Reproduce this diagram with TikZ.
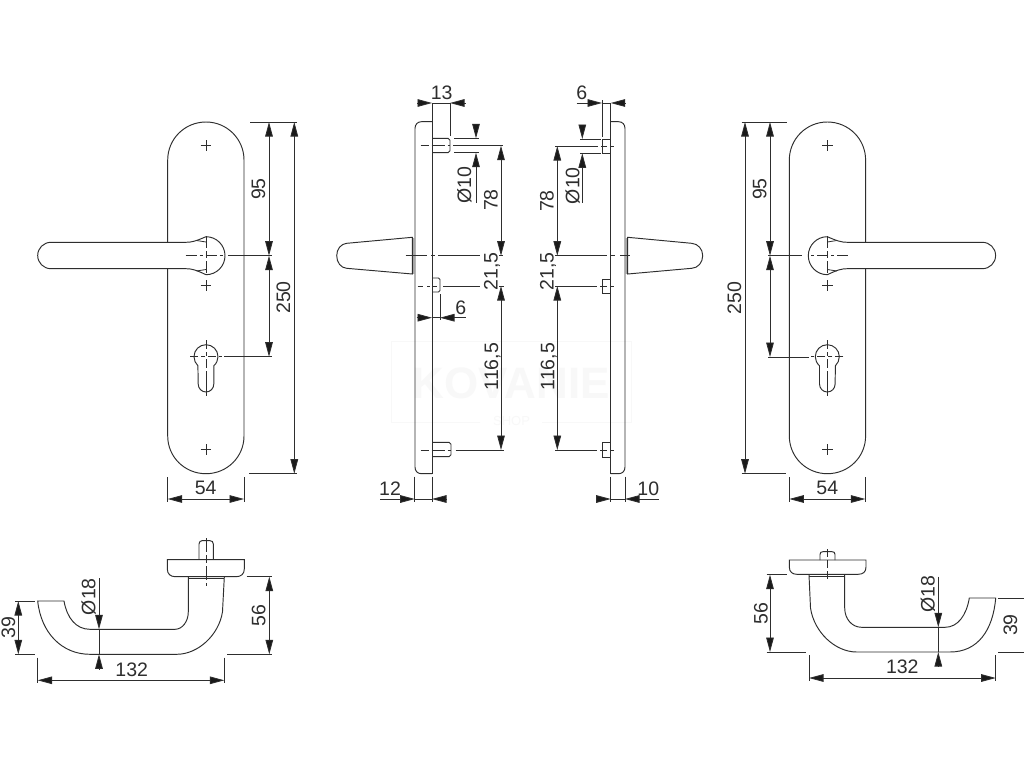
\documentclass[tikz,border=0pt]{standalone}
\usepackage{fontspec}
\setmainfont{Liberation Sans}
\usetikzlibrary{arrows.meta}
\definecolor{ink}{HTML}{2E2E2E}
\definecolor{tipc}{HTML}{1A1A1A}
\definecolor{wm}{HTML}{F8F8F8}
\tikzset{
  ln/.style={draw=ink,line width=0.95pt},
  thinln/.style={draw=ink,line width=0.8pt},
  dimln/.style={draw=ink,line width=0.8pt},
  tipA/.style={-{Triangle[length=14.5pt,width=7.6pt,fill=tipc]}},
  tipB/.style={{Triangle[length=14.5pt,width=7.6pt,fill=tipc]}-{Triangle[length=14.5pt,width=7.6pt,fill=tipc]}},
  tipS/.style={{Triangle[length=14.5pt,width=7.6pt,fill=tipc]}-},
  lab/.style={text=ink,inner sep=0pt,font=\fontsize{19.5}{21}\selectfont,text height=14pt,text depth=0pt},
  rlab/.style={lab,rotate=90},
  wmtext/.style={text=wm,inner sep=0pt,font=\fontsize{44}{46}\selectfont\bfseries},
}
\newcommand{\plusmark}[2]{\draw[thinln] ({#1-5.3},#2) -- ({#1+5.3},#2) ({#1},{#2-5.3}) -- ({#1},{#2+5.3});}
\newcommand{\frontshape}{%
  \draw[ln] (167.7,160) .. controls (167.7,139) and (184.7,122) .. (206,122)
    .. controls (227,122) and (244,139) .. (244,160) -- (244,436)
    .. controls (244,457) and (227,473.7) .. (206,473.7)
    .. controls (184.7,473.7) and (167.7,457) .. (167.7,436) -- cycle;
  \draw[ln,fill=white] (186,242.3) -- (51,242.3)
    .. controls (43.5,242.3) and (37.7,248.2) .. (37.7,255.5)
    .. controls (37.7,262.8) and (43.5,268.7) .. (51,268.7) -- (186,268.7)
    .. controls (192,268.7) and (196,270) .. (206,274.7)
    .. controls (216.5,274.7) and (225,266.2) .. (225,255.7)
    .. controls (225,245.2) and (216.5,236.7) .. (206,236.7)
    .. controls (196,241) and (192,242.3) .. (186,242.3) -- cycle;
  \draw[thinln] (196.5,240.5) -- (206,242) (196.5,271) -- (206,269.5);
  \draw[thinln,dash pattern=on 11pt off 3pt on 3pt off 3pt] (185.7,255.7) -- (225.7,255.7);
  \draw[thinln,dash pattern=on 12pt off 3pt on 7pt off 3pt on 12pt] (206,236) -- (206,275);
  \plusmark{206}{145.7}
  \plusmark{206}{285.7}
  \plusmark{206}{449.3}
  \draw[ln] (197.9,365.8) .. controls (195.5,363.4) and (194,360.1) .. (194,356.7)
    .. controls (194,350.07) and (199.37,344.7) .. (206,344.7)
    .. controls (212.63,344.7) and (218,350.07) .. (218,356.7)
    .. controls (218,360.1) and (216.5,363.4) .. (213.8,365.8)
    -- (213.8,384) .. controls (213.8,388.5) and (210.3,392) .. (206,392)
    .. controls (201.7,392) and (198.2,388.5) .. (198.2,384) -- cycle;
  \draw[thinln,dash pattern=on 8pt off 3pt on 4pt off 3pt on 8pt off 3pt] (190,356.7) -- (222,356.7);
  \draw[thinln,dash pattern=on 9pt off 3pt on 4pt off 3pt on 9pt off 3pt on 40pt] (206,340) -- (206,396);
}
\begin{document}
\begin{tikzpicture}[x=1pt,y=-1pt]
\useasboundingbox (0,0) rectangle (1024,768);
\fill[white] (0,0) rectangle (1024,768);

% watermark
\draw[draw=wm,line width=1.5pt] (480,422.7) -- (391.7,422.7) -- (391.7,341.7) -- (631.7,341.7) -- (631.7,422.7) -- (542,422.7);
\node[wmtext] (wmA) at (511.5,383) {KOVANIE};
\node[text=wm,inner sep=0pt,font=\fontsize{13}{14}\selectfont] (wmB) at (511.5,421) {SHOP};

% ---------- left front
\frontshape
\draw[thinln] (228,255.7) -- (272,255.7);
\draw[thinln] (224,356.7) -- (272,356.7);
\draw[thinln] (250,122) -- (297,122);
\draw[thinln] (249,473.7) -- (297,473.7);
\draw[dimln,tipB] (269,122) -- (269,255.7);
\draw[dimln,tipB] (269,255.7) -- (269,356.7);
\draw[dimln,tipB] (294.3,122) -- (294.3,473.7);
\draw[thinln] (167.7,477) -- (167.7,502) (244,477) -- (244,502);
\draw[dimln,tipB] (167.7,499) -- (244,499);
\node[rlab] (a95) at (258,189) {95};
\node[rlab] (a250) at (283,297.5) {250};
\node[lab] (a54) at (205.7,487.7) {54};

% ---------- right front (mirrored shape)
\begin{scope}[shift={(1033.3,0)},xscale=-1]
\frontshape
\end{scope}
\draw[thinln] (768,255.7) -- (802,255.7);
\draw[thinln] (768,357) -- (809,357);
\draw[thinln] (741.7,122) -- (786.7,122);
\draw[thinln] (741.7,473.7) -- (786,473.7);
\draw[dimln,tipB] (770,122) -- (770,255.7);
\draw[dimln,tipB] (770,255.7) -- (770,357);
\draw[dimln,tipB] (745,122) -- (745,473.7);
\draw[thinln] (789.3,477) -- (789.3,502) (865.3,477) -- (865.3,502);
\draw[dimln,tipB] (789.3,499) -- (865.3,499);
\node[rlab] (b95) at (759.3,189) {95};
\node[rlab] (b250) at (734,298) {250};
\node[lab] (b54) at (827.3,487.7) {54};

% ---------- left side view
\draw[ln] (432,121.7) -- (421.5,121.7) .. controls (417.5,121.7) and (415,124.5) .. (415,128.5)
  -- (415,467) .. controls (415,471) and (417.5,473.7) .. (421.5,473.7) -- (432,473.7);
\draw[ln] (432,103) -- (432,473.7) (432,476.5) -- (432,502);
\fill[gray!70] (412.3,238) rectangle (415,274);
\draw[ln] (412.3,237.3) -- (346.7,243.3) .. controls (341,243.8) and (336.7,249) .. (336.7,255.7)
  .. controls (336.7,262.5) and (341,268) .. (346.7,268.3) -- (412.3,274) -- cycle;
\draw[ln] (432,138.3) -- (448,138.3) -- (450,140.3) -- (450,150.7) -- (448,152.7) -- (432,152.7);
\draw[ln] (432,278) -- (438.5,278) -- (440,279.5) -- (440,290.5) -- (438.5,292) -- (432,292);
\draw[ln] (432,442.3) -- (449,442.3) -- (451,444.3) -- (451,454.7) -- (449,456.7) -- (432,456.7);
\draw[thinln,dash pattern=on 8pt off 3pt on 13pt off 3pt] (420.7,145.7) -- (450,145.7);
\draw[thinln] (453,145.7) -- (503,145.7);
\draw[thinln] (454,138.3) -- (479,138.3) (454,152.7) -- (479,152.7);
\draw[dimln,tipA] (476,124) -- (476,138.3);
\draw[dimln,tipS] (476,152.7) -- (476,203);
\draw[thinln] (405.7,255.7) -- (427,255.7) (431,255.7) -- (435,255.7) (438,255.7) -- (480,255.7) (499,255.7) -- (503,255.7);
\draw[thinln] (417.7,286) -- (423,286) (427,286) -- (430,286) (433,286) -- (437,286) (443,286) -- (480,286) (499,286) -- (504,286);
\draw[thinln,dash pattern=on 8pt off 3pt on 13pt off 3pt] (420.7,450) -- (451,450);
\draw[thinln] (455.7,450) -- (504,450);
\draw[dimln,tipB] (501,145.7) -- (501,255.7);
\draw[dimln,tipS] (501,286) -- (501,340);
\draw[dimln,tipA] (501,340) -- (501,450);
\draw[thinln] (450,103) -- (450,136);
\draw[dimln,tipA] (417,103) -- (432,103);
\draw[dimln,tipS] (450,103) -- (465.7,103);
\draw[dimln] (432,103) -- (450,103);
\draw[thinln] (440,294) -- (440,320);
\draw[dimln,tipA] (416.7,317.7) -- (432,317.7);
\draw[dimln,tipS] (440,317.7) -- (466,317.7);
\draw[dimln] (432,317.7) -- (440,317.7);
\draw[thinln] (414.7,476.5) -- (414.7,502);
\draw[dimln,tipA] (380,499) -- (414.7,499);
\draw[dimln,tipS] (432,499) -- (446.7,499);
\draw[dimln] (414.7,499) -- (432,499);
\node[lab] (c13) at (441.7,92.7) {13};
\node[rlab] (c10) at (464,185) {Ø10};
\node[rlab] (c78) at (490.7,200) {78};
\node[rlab] (c21) at (490.7,271.7) {21,5};
\node[lab] (c6) at (460.7,307.3) {6};
\node[rlab] (c116) at (491,366.7) {116,5};
\node[lab] (c12) at (390,488.3) {12};

% ---------- right side view
\draw[ln] (610.7,121.7) -- (618.5,121.7) .. controls (622.5,121.7) and (625,124.5) .. (625,128.5)
  -- (625,467) .. controls (625,471) and (622.5,473.7) .. (618.5,473.7) -- (610.7,473.7);
\draw[ln] (610.7,103) -- (610.7,473.7) (610.7,476.5) -- (610.7,502);
\draw[thinln] (625,476.5) -- (625,502);
\fill[gray!70] (625,238) rectangle (627.7,274);
\draw[ln] (627.7,237.3) -- (691.7,243.3) .. controls (698,243.8) and (702.7,249) .. (702.7,255.7)
  .. controls (702.7,262.5) and (698,268) .. (691.7,268.3) -- (627.7,274) -- cycle;
\draw[ln] (610.7,139) -- (602,139) -- (602,153.3) -- (610.7,153.3);
\draw[ln] (610.7,279.3) -- (602,279.3) -- (602,293.3) -- (610.7,293.3);
\draw[ln] (610.7,442.7) -- (602.3,442.7) -- (602.3,457) -- (610.7,457);
\draw[thinln] (555,146) -- (598,146) (601,146) -- (607,146) (610,146) -- (614,146);
\draw[thinln] (555,255.7) -- (606.7,255.7) (610,255.7) -- (615,255.7) (620,255.7) -- (630,255.7);
\draw[thinln] (555,286) -- (597,286) (600,286) -- (607,286) (610,286) -- (614,286);
\draw[thinln] (555,450) -- (597,450) (600,450) -- (607,450) (610,450) -- (614,450);
\draw[thinln] (580,139) -- (601,139) (580,153.3) -- (601,153.3);
\draw[dimln,tipA] (582.3,125) -- (582.3,139);
\draw[dimln,tipS] (582.3,153.3) -- (582.3,203);
\draw[dimln,tipB] (557.3,146) -- (557.3,255.7);
\draw[dimln,tipS] (557.3,286) -- (557.3,340);
\draw[dimln,tipA] (557.3,340) -- (557.3,450);
\draw[thinln] (602,100) -- (602,137);
\draw[dimln,tipA] (576.7,103) -- (602,103);
\draw[dimln,tipS] (610.7,103) -- (625.3,103);
\draw[dimln] (602,103) -- (610.7,103);
\draw[dimln,tipA] (596,499) -- (610.7,499);
\draw[dimln,tipS] (625,499) -- (659,499);
\draw[dimln] (610.7,499) -- (625,499);
\node[lab] (d6) at (581.7,92.7) {6};
\node[rlab] (d10) at (572.3,185.7) {Ø10};
\node[rlab] (d78) at (546.7,201) {78};
\node[rlab] (d21) at (546.7,271.7) {21,5};
\node[rlab] (d116) at (547.3,366.7) {116,5};
\node[lab] (d10b) at (648.3,488.3) {10};

% ---------- bottom left handle
\draw[ln] (199,559.7) -- (199,544) .. controls (199,541.8) and (200.5,540.7) .. (202,540.7) -- (210,540.7)
  .. controls (212,540.7) and (213.3,541.8) .. (213.3,544) -- (213.3,559.7);
\draw[ln] (167.3,559.7) -- (244.3,559.7) -- (244.3,569) .. controls (244.3,574) and (241,576.7) .. (236,576.7)
  -- (175.5,576.7) .. controls (170.5,576.7) and (167.3,574) .. (167.3,569) -- cycle;
\draw[thinln] (188.3,578.3) -- (224.3,578.3);
\draw[ln] (224.3,577) -- (222.5,611.7) .. controls (219,635) and (198,654.3) .. (176.7,654.3)
  -- (90,654.3) .. controls (62,654.3) and (41,633) .. (37.7,601)
  -- (64,601) .. controls (67,618) and (76,629.3) .. (90,629.3)
  -- (175,629.3) .. controls (182,629.3) and (188.3,622) .. (188.3,611.7) -- (188.3,577);
\draw[thinln,dash pattern=on 14pt off 3pt on 8pt off 3pt on 14pt off 3pt] (206,538) -- (206,585.7);
\draw[thinln] (15.3,601) -- (35,601) (15.3,654.3) -- (35,654.3);
\draw[dimln,tipB] (18.3,601) -- (18.3,654.3);
\draw[thinln] (246.7,576.7) -- (272,576.7) (227.3,654.3) -- (272,654.3);
\draw[dimln,tipB] (269.3,576.7) -- (269.3,654.3);
\draw[dimln,tipA] (99,578) -- (99,629.3);
\draw[dimln,tipS] (99,654.3) -- (99,669.3);
\draw[dimln] (99,629.3) -- (99,654.3);
\draw[thinln] (37.7,657.7) -- (37.7,683) (224.3,657.7) -- (224.3,683);
\draw[dimln,tipB] (37.7,680.3) -- (224.3,680.3);
\node[rlab] (e39) at (8,627.7) {39};
\node[rlab] (e56) at (258.3,615.7) {56};
\node[rlab] (e18) at (88.3,596.7) {Ø18};
\node[lab] (e132) at (131.7,669.3) {132};

% ---------- bottom right handle
\draw[ln] (820,560) -- (820,554.5) .. controls (820,552.5) and (821,551.7) .. (823,551.7) -- (832,551.7)
  .. controls (834,551.7) and (835,552.5) .. (835,554.5) -- (835,560);
\draw[ln] (789.3,560) -- (866,560) -- (866,567) .. controls (866,572) and (863,574.3) .. (858,574.3)
  -- (797,574.3) .. controls (792.5,574.3) and (789.3,572) .. (789.3,567) -- cycle;
\draw[thinln] (809,576) -- (844.7,576);
\draw[ln] (809,575) -- (810.5,608) .. controls (814,632) and (835,652) .. (856.7,652)
  -- (950,652) .. controls (978,652) and (993,630) .. (995.7,598)
  -- (969.3,598) .. controls (966.5,615) and (958,627.3) .. (945,627.3)
  -- (861.7,627.3) .. controls (852,627.3) and (844.7,619) .. (844.7,608) -- (844.7,575);
\draw[thinln,dash pattern=on 8pt off 3pt on 8pt off 3pt on 8pt off 3pt] (827.3,549) -- (827.3,579);
\draw[thinln] (766.7,574.7) -- (786.7,574.7) (766.7,652) -- (806,652);
\draw[dimln,tipB] (770,574.7) -- (770,652);
\draw[dimln,tipA] (938.3,576.7) -- (938.3,627.3);
\draw[dimln,tipS] (938.3,652) -- (938.3,666.7);
\draw[dimln] (938.3,627.3) -- (938.3,652);
\draw[thinln] (809,655) -- (809,681) (995.7,655) -- (995.7,681);
\draw[dimln,tipB] (809,678) -- (995.7,678);
\draw[thinln] (998,598) -- (1024,598) (998,652) -- (1024,652);
\node[rlab] (f56) at (760.7,613.3) {56};
\node[rlab] (f18) at (927.7,594.3) {Ø18};
\node[rlab] (f39) at (1010,625) {39};
\node[lab] (f132) at (902.3,666.7) {132};
\end{tikzpicture}
\end{document}
